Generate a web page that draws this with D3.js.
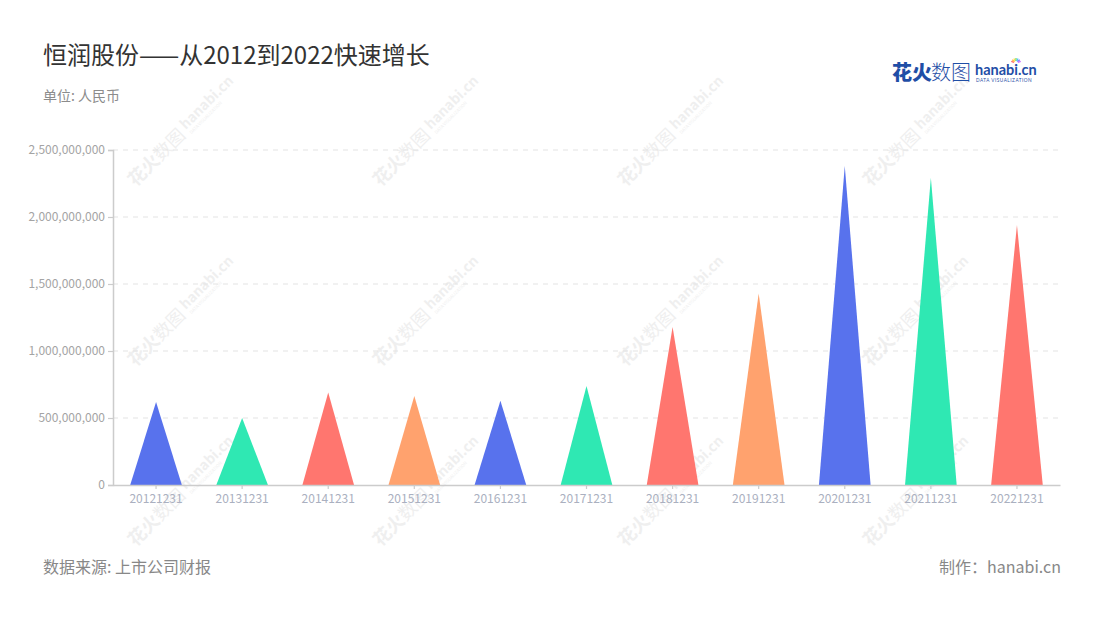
<!DOCTYPE html>
<html><head><meta charset="utf-8">
<script src="https://cdn.jsdelivr.net/npm/d3@7"></script>
<style>
body{margin:0;background:#fff;}
svg{display:block;font-family:"Noto Sans CJK SC","Noto Sans",sans-serif;}
</style></head>
<body><svg id="c" width="1100" height="620"></svg>
<script>
const categories = ["20121231","20131231","20141231","20151231","20161231","20171231","20181231","20191231","20201231","20211231","20221231"];
const values = [620000000,500000000,690000000,665000000,628000000,738000000,1180000000,1430000000,2380000000,2293000000,1940000000];
const yTicks = [0,500000000,1000000000,1500000000,2000000000,2500000000];
const palette = ["#5872ED","#2FE8B3","#FF766F","#FFA26E"];

const svg = d3.select("#c");
const M = {left:113, right:1060, top:150, bottom:485};

// watermarks
const wmCols = [183,428,673,918], wmRows=[130,310,490];
wmRows.forEach(r=>wmCols.forEach(cx=>{
  const g = svg.append("g").attr("transform",`translate(${cx},${r}) rotate(-45)`);
  g.append("text").attr("x",-74).attr("y",7).attr("font-size",18).attr("font-weight",700).attr("fill","#efefef").text("花火");
  g.append("text").attr("x",-38).attr("y",7).attr("font-size",18).attr("fill","#efefef").text("数图");
  g.append("text").attr("x",2).attr("y",2).attr("font-size",14).attr("font-weight",700).attr("fill","#efefef").text("hanabi.cn");
  g.append("text").attr("x",3).attr("y",9).attr("font-size",4.5).attr("fill","#efefef").text("DATA VISUALIZATION");
}));

const x = d3.scaleBand().domain(categories).range([M.left,M.right]);
const y = d3.scaleLinear().domain([0,2500000000]).range([M.bottom,M.top]);

// grid
svg.append("g").selectAll("line").data(yTicks.slice(1)).join("line")
  .attr("x1",M.left).attr("x2",M.right).attr("y1",d=>y(d)).attr("y2",d=>y(d))
  .attr("stroke","#e3e3e3").attr("stroke-width",1.2).attr("stroke-dasharray","5,5");

// y axis
const ya = svg.append("g").attr("transform",`translate(${M.left},0)`)
  .call(d3.axisLeft(y).tickValues(yTicks).tickFormat(d3.format(",")).tickSize(5).tickPadding(3));
ya.select(".domain").attr("stroke","#cccccc").attr("stroke-width",1.5);
ya.selectAll(".tick line").attr("stroke","#cccccc").attr("stroke-width",1.2);
ya.selectAll("text").attr("font-size",12).attr("fill","#a4a4a4").attr("font-family",'"Noto Sans CJK SC",sans-serif');

// triangles
const bw = x.bandwidth()*0.6;
svg.append("g").selectAll("path").data(values).join("path")
  .attr("d",(d,i)=>{
    const cx = x(categories[i])+x.bandwidth()/2;
    return `M${cx-bw/2},${y(0)}L${cx},${y(d)}L${cx+bw/2},${y(0)}Z`;
  })
  .attr("fill",(d,i)=>palette[i%4]);

// x axis
const xa = svg.append("g").attr("transform",`translate(0,${M.bottom})`)
  .call(d3.axisBottom(x).tickSize(4).tickPadding(5).tickSizeOuter(0));
xa.select(".domain").attr("stroke","#cccccc").attr("stroke-width",1.5);
xa.selectAll(".tick line").attr("stroke","#cccccc").attr("stroke-width",1.2);
xa.selectAll("text").attr("font-size",12).attr("fill","#aab0c0").attr("font-family",'"Noto Sans CJK SC",sans-serif');

// title
svg.append("text").attr("x",43).attr("y",64).attr("font-size",24).attr("fill","#333").text("恒润股份——从2012到2022快速增长");
svg.append("text").attr("x",43).attr("y",101).attr("font-size",14).attr("fill","#8c8c8c").text("单位: 人民币");
svg.append("text").attr("x",43).attr("y",573).attr("font-size",16).attr("fill","#888").text("数据来源: 上市公司财报");
svg.append("text").attr("x",1061).attr("y",573).attr("text-anchor","end").attr("font-size",16).attr("fill","#888").text("制作：hanabi.cn");

// logo
const lg = svg.append("g");
lg.append("text").attr("x",892).attr("y",80).attr("font-size",20).attr("font-weight",900).attr("fill","#1f4ea6").text("花火");
lg.append("text").attr("x",931).attr("y",80).attr("font-size",20).attr("font-weight",300).attr("fill","#1f4ea6").text("数图");
lg.append("text").attr("x",975).attr("y",75).attr("font-size",14.5).attr("font-weight",700).attr("fill","#1f4ea6").attr("font-family","Lato,sans-serif").text("hanabi.cn");
lg.append("text").attr("x",976).attr("y",82).attr("font-size",4.7).attr("letter-spacing",0.5).attr("fill","#1f4ea6").attr("font-family","Lato,sans-serif").text("DATA VISUALIZATION");
const burst = ["#ff6b6b","#ffb347","#ffe14d","#6fdc6f","#4dc3ff","#7a7aff","#d070ff"];
burst.forEach((c,i)=>{
  const a = -Math.PI*0.9 + i*(Math.PI*0.8/6);
  lg.append("line").attr("x1",1016+Math.cos(a)*2).attr("y1",63+Math.sin(a)*2)
    .attr("x2",1016+Math.cos(a)*5).attr("y2",63+Math.sin(a)*5)
    .attr("stroke",c).attr("stroke-width",1.3);
});
</script></body></html>
